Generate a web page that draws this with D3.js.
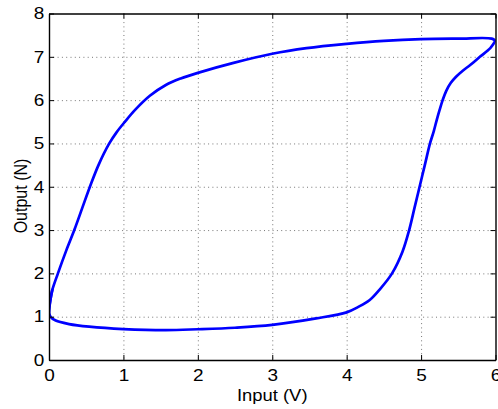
<!DOCTYPE html>
<html>
<head>
<meta charset="utf-8">
<script src="https://cdn.jsdelivr.net/npm/d3@7"></script>
<style>
  body { margin: 0; background: #fff; }
  svg text { font-family: "Liberation Sans", Arial, sans-serif; }
</style>
</head>
<body>
<div class="canvas"></div>
<script>
// hysteresis loop, split at the sharp tip on the right
const risingV = [
  0.0, 0.02, 0.045, 0.12, 0.23, 0.34, 0.445, 0.55, 0.665, 0.81, 0.905, 1.02,
  1.16, 1.355, 1.57, 1.77, 2.0, 2.48, 3.0, 3.46, 4.0, 4.5, 5.0, 5.5, 5.95, 6.0
];
const risingN = [
  1.12, 1.4, 1.62, 2.0, 2.52, 3.0, 3.5, 4.0, 4.5, 5.0, 5.25, 5.5,
  5.78, 6.1, 6.35, 6.5, 6.63, 6.86, 7.07, 7.2, 7.3, 7.37, 7.41, 7.42, 7.42, 7.37
];
const fallingV = [
  6.0, 5.93, 5.79, 5.66, 5.56, 5.47, 5.4, 5.34, 5.29, 5.25, 5.21, 5.17, 5.12,
  5.05, 4.98, 4.91, 4.84, 4.75, 4.61, 4.44, 4.31, 4.15, 4.0, 3.59, 3.0, 2.5,
  2.0, 1.57, 1.0, 0.54, 0.27, 0.09, 0.02, 0.0, 0.02, 0.045
];
const fallingN = [
  7.37, 7.2, 7.0, 6.81, 6.68, 6.54, 6.4, 6.22, 6.0, 5.78, 5.54, 5.28, 5.0,
  4.5, 4.0, 3.5, 3.0, 2.5, 2.0, 1.62, 1.385, 1.22, 1.1, 0.96, 0.81, 0.745,
  0.71, 0.69, 0.715, 0.77, 0.83, 0.91, 1.0, 1.12, 1.4, 1.62
];
const xTicks = [0, 1, 2, 3, 4, 5, 6];
const yTicks = [0, 1, 2, 3, 4, 5, 6, 7, 8];

const W = 498, H = 409;
const margin = { top: 13.5, right: 2.5, bottom: 49, left: 49 };
const width = W - margin.left - margin.right;
const height = H - margin.top - margin.bottom;
const stretch = 1.15; // the reference text is a little wider than normal

const x = d3.scaleLinear().domain([0, 6]).range([0, width]);
const y = d3.scaleLinear().domain([0, 8]).range([height, 0]);

const svg = d3.select(".canvas").append("svg")
  .attr("width", W).attr("height", H);

const chart = svg.append("g")
  .attr("transform", `translate(${margin.left}, ${margin.top})`);

// dotted grid
const grid = chart.append("g")
  .attr("stroke", "#777")
  .attr("stroke-width", 1)
  .attr("stroke-dasharray", "1,3.3");
grid.selectAll(".gx").data(xTicks.slice(1, -1)).enter().append("line")
  .attr("x1", d => x(d) + 0.5).attr("x2", d => x(d) + 0.5)
  .attr("y1", 0).attr("y2", height);
grid.selectAll(".gy").data(yTicks.slice(1, -1)).enter().append("line")
  .attr("y1", d => y(d) + 0.5).attr("y2", d => y(d) + 0.5)
  .attr("x1", 0).attr("x2", width);

chart.append("clipPath").attr("id", "clip")
  .append("rect").attr("width", width).attr("height", height);

const line = d3.line()
  .x(d => x(d[0]))
  .y(d => y(d[1]))
  .curve(d3.curveCatmullRom.alpha(0.5));

const branches = [
  d3.zip(risingV, risingN),
  d3.zip(fallingV, fallingN)
];

chart.selectAll(".branch").data(branches).enter().append("path")
  .attr("class", "branch")
  .attr("clip-path", "url(#clip)")
  .attr("fill", "none")
  .attr("stroke", "#0000ff")
  .attr("stroke-width", 2.7)
  .attr("stroke-linejoin", "round")
  .attr("stroke-linecap", "round")
  .attr("d", line);

// axes, ticks inside, on all four sides
const fmt = d3.format("d");
const styleAxis = g => {
  g.selectAll("path").attr("stroke", "#000").attr("stroke-width", 1.4);
  g.selectAll("line").attr("stroke", "#000");
  g.selectAll("text").attr("fill", "#000").style("font-size", "16.5px")
    .attr("transform", `scale(${stretch},1)`);
  g.attr("font-family", null).attr("font-size", null);
};

chart.append("g").attr("transform", `translate(0, ${height})`)
  .call(d3.axisBottom(x).tickValues(xTicks).tickFormat(fmt).tickSizeInner(-5).tickSizeOuter(0).tickPadding(9))
  .call(styleAxis);
chart.append("g")
  .call(d3.axisTop(x).tickValues(xTicks).tickFormat("").tickSizeInner(-5).tickSizeOuter(0))
  .call(styleAxis);
chart.append("g")
  .call(d3.axisLeft(y).tickValues(yTicks).tickFormat(fmt).tickSizeInner(-5).tickSizeOuter(0).tickPadding(4))
  .call(styleAxis);
chart.append("g").attr("transform", `translate(${width}, 0)`)
  .call(d3.axisRight(y).tickValues(yTicks).tickFormat("").tickSizeInner(-5).tickSizeOuter(0))
  .call(styleAxis);

svg.append("text")
  .attr("transform", `translate(${margin.left + width / 2}, 401) scale(${stretch},1)`)
  .attr("text-anchor", "middle")
  .style("font-size", "16px")
  .text("Input (V)");

svg.append("text")
  .attr("transform", `translate(27, 196) scale(${stretch},1) rotate(-90)`)
  .attr("text-anchor", "middle")
  .style("font-size", "16px")
  .text("Output (N)");
</script>
</body>
</html>
